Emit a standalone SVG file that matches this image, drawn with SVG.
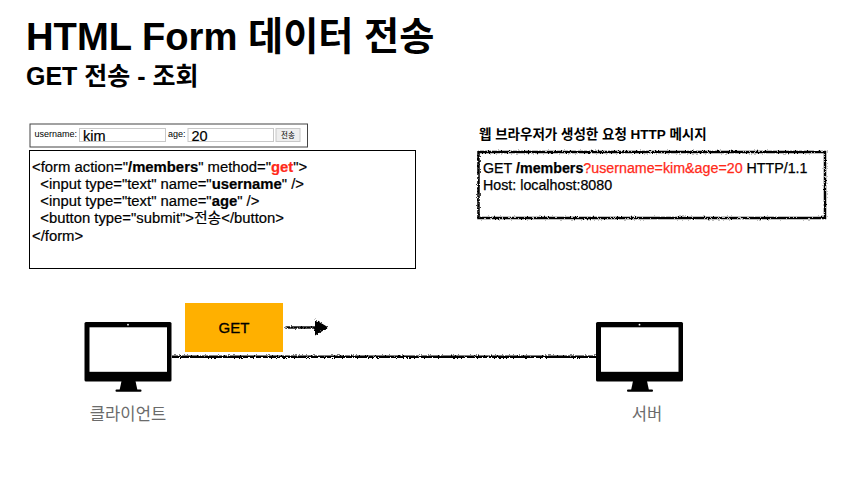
<svg xmlns="http://www.w3.org/2000/svg" width="853" height="486" viewBox="0 0 853 486">
<style>
text{font-family:"Liberation Sans","Noto Sans CJK KR",sans-serif;fill:#000}
.code{font-size:14.850px;stroke:#000;stroke-width:0.2px}
.msg{font-size:14.250px;stroke:#000;stroke-width:0.25px}
.b{font-weight:700}
.r{fill:#ff2a1a;stroke:#ff2a1a}
.box{fill:#fff;stroke:#000;stroke-width:1}
.mon{fill:#000}
.scr{fill:#fff}
.cap{font-size:16.600px;fill:#6b6b6b;text-anchor:middle}
.inp{fill:#fff;stroke:#c8c8c8;stroke-width:1}
.sk{fill:none;stroke:#000}
</style>
<defs>
<filter id="roughU" filterUnits="userSpaceOnUse" x="0" y="0" width="853" height="486">
<feTurbulence type="fractalNoise" baseFrequency="0.7" numOctaves="2" seed="3"/>
<feDisplacementMap in="SourceGraphic" scale="3.200" xChannelSelector="R" yChannelSelector="G"/>
</filter>
<g id="monitor">
<rect class="mon" x="0" y="0" width="87" height="59.500" rx="1.500"/>
<rect class="scr" x="5" y="5.300" width="77.500" height="44.500"/>
<circle class="scr" cx="43.500" cy="2.700" r="0.900"/>
<path class="mon" d="M37 59h14l2 9.500h-18z"/>
<rect class="mon" x="31" y="67.500" width="26" height="2.200" rx="1"/>
</g>
</defs>

<g id="title">
<text x="26" y="50" font-size="38.200" font-weight="700">HTML Form 데이터 전송</text>
<text x="26" y="85" font-size="25" font-weight="700">GET 전송 - 조회</text>
</g>

<g id="form-preview">
<rect x="30" y="124" width="277.500" height="23" fill="#fff" stroke="#444" stroke-width="1"/>
<text x="34.500" y="137" font-size="9">username:</text>
<rect class="inp" x="79.500" y="128.500" width="86" height="13"/>
<text x="83" y="141" font-size="14.500" stroke="#000" stroke-width="0.200">kim</text>
<text x="168" y="137" font-size="9">age:</text>
<rect class="inp" x="188" y="128.500" width="85.500" height="13"/>
<text x="191.500" y="141" font-size="14.500" stroke="#000" stroke-width="0.200">20</text>
<rect x="276" y="128.500" width="24" height="13" fill="#eee" stroke="#c8c8c8"/>
<text x="288" y="138" font-size="7.500" text-anchor="middle">전송</text>
</g>

<g id="form-code">
<rect class="box" x="29.500" y="150.500" width="386" height="118"/>
<text class="code" x="32" y="172">&lt;form action="<tspan class="b">/members</tspan>" method="<tspan class="b r">get</tspan>"&gt;</text>
<text class="code" x="32" y="189" xml:space="preserve">  &lt;input type="text" name="<tspan class="b">username</tspan>" /&gt;</text>
<text class="code" x="32" y="206" xml:space="preserve">  &lt;input type="text" name="<tspan class="b">age</tspan>" /&gt;</text>
<text class="code" x="32" y="223" xml:space="preserve">  &lt;button type="submit"&gt;전송&lt;/button&gt;</text>
<text class="code" x="32" y="241">&lt;/form&gt;</text>
</g>

<g id="http-message">
<text x="479" y="139" font-size="13.500" font-weight="700">웹 브라우저가 생성한 요청 HTTP 메시지</text>
<rect class="sk" x="478.500" y="152" width="346.500" height="66" stroke-width="2.500" filter="url(#roughU)"/>
<text class="msg" x="483" y="173">GET <tspan class="b">/members</tspan><tspan class="r">?username=kim&amp;age=20</tspan> HTTP/1.1</text>
<text class="msg" x="483" y="190">Host: localhost:8080</text>
</g>

<g id="client">
<use href="#monitor" x="84.500" y="322"/>
<text class="cap" x="128" y="420">클라이언트</text>
</g>

<g id="server">
<use href="#monitor" x="596" y="322"/>
<text class="cap" x="647" y="420">서버</text>
</g>

<g id="get-label">
<rect x="185" y="303" width="98" height="49" fill="#ffb000"/>
<text x="234" y="333" font-size="15" stroke="#000" stroke-width="0.300" text-anchor="middle">GET</text>
</g>

<g id="connectors">
<path class="sk" d="M172 356.800H596" stroke-width="2.400" filter="url(#roughU)"/>
<path class="sk" d="M285.500 327.500H316" stroke-width="2.400" filter="url(#roughU)"/>
<path d="M315 319.500L328.500 327.500L315 335.500Z" fill="#000" filter="url(#roughU)"/>
</g>
</svg>
